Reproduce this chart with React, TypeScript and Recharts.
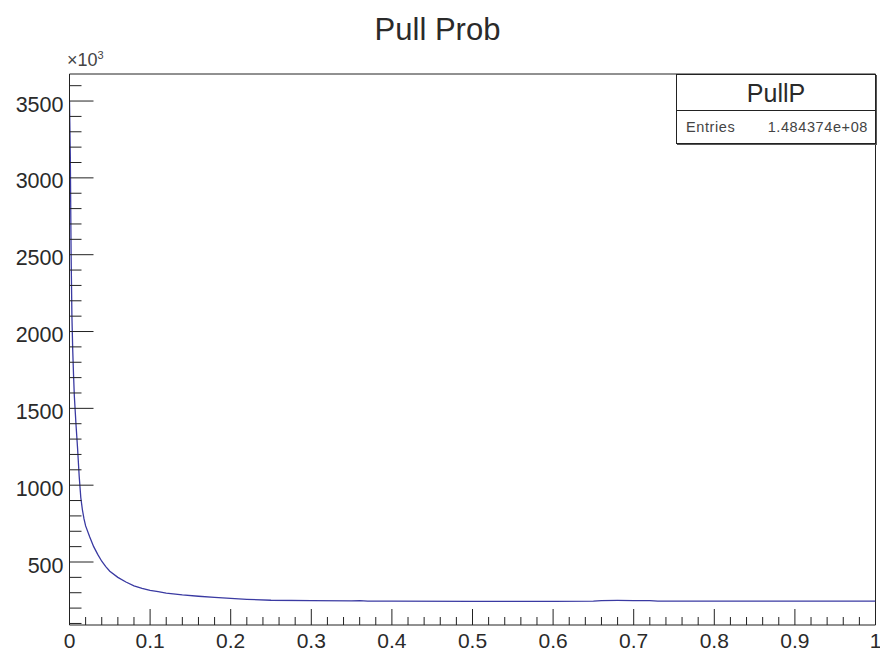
import React from "react";
import { LineChart, Line, XAxis, YAxis, ReferenceLine } from "recharts";

const xValues = [0, 0.001, 0.002, 0.003, 0.004, 0.005, 0.006, 0.008, 0.01, 0.012, 0.014, 0.016, 0.018, 0.02, 0.025, 0.03, 0.035, 0.04, 0.045, 0.05, 0.06, 0.07, 0.08, 0.09, 0.1, 0.11, 0.12, 0.14, 0.16, 0.18, 0.2, 0.22, 0.25, 0.3, 0.35, 0.36, 0.37, 0.4, 0.5, 0.6, 0.65, 0.66, 0.68, 0.7, 0.72, 0.73, 0.8, 0.9, 1.0];
const counts = [3500, 3150, 2500, 2100, 1880, 1720, 1580, 1400, 1240, 1060, 920, 840, 780, 735, 665, 600, 550, 505, 470, 440, 400, 370, 345, 328, 316, 307, 298, 286, 277, 270, 263, 257, 251, 248, 247, 249, 246, 245, 244, 244, 245, 249, 250, 249, 248, 245, 245, 245, 245];

const xMajorTicks = [0, 0.1, 0.2, 0.3, 0.4, 0.5, 0.6, 0.7, 0.8, 0.9, 1];
const xAllTicks = [0, 0.02, 0.04, 0.06, 0.08, 0.1, 0.12, 0.14, 0.16, 0.18, 0.2, 0.22, 0.24, 0.26, 0.28, 0.3, 0.32, 0.34, 0.36, 0.38, 0.4, 0.42, 0.44, 0.46, 0.48, 0.5, 0.52, 0.54, 0.56, 0.58, 0.6, 0.62, 0.64, 0.66, 0.68, 0.7, 0.72, 0.74, 0.76, 0.78, 0.8, 0.82, 0.84, 0.86, 0.88, 0.9, 0.92, 0.94, 0.96, 0.98, 1];
const xTickLabels = ["0", "0.1", "0.2", "0.3", "0.4", "0.5", "0.6", "0.7", "0.8", "0.9", "1"];

const yMajorTicks = [500, 1000, 1500, 2000, 2500, 3000, 3500];
const yAllTicks = [100, 200, 300, 400, 500, 600, 700, 800, 900, 1000, 1100, 1200, 1300, 1400, 1500, 1600, 1700, 1800, 1900, 2000, 2100, 2200, 2300, 2400, 2500, 2600, 2700, 2800, 2900, 3000, 3100, 3200, 3300, 3400, 3500, 3600];
const yTickLabels = ["500", "1000", "1500", "2000", "2500", "3000", "3500"];

const Y_MIN = 90;
const Y_MAX = 3676;

const data = xValues.map((x, i) => ({ x, y: counts[i] }));

const FONT = "'Liberation Sans', Arial, Helvetica, sans-serif";
const TXT = "#2a2a2a";

const XTick = (props: any) => {
  const { x, y, payload } = props;
  const v = payload.value;
  const idx = xMajorTicks.findIndex((m) => Math.abs(m - v) < 1e-9);
  const major = idx >= 0;
  return (
    <g>
      <line x1={x} x2={x} y1={y} y2={y - (major ? 16 : 8)} stroke="#222" strokeWidth={1} />
      {major && (
        <text x={x} y={y + 23} textAnchor="middle" fontFamily={FONT} fontSize={21} fill={TXT}>
          {xTickLabels[idx]}
        </text>
      )}
    </g>
  );
};

const YTick = (props: any) => {
  const { x, y, payload } = props;
  const v = payload.value;
  const idx = yMajorTicks.findIndex((m) => Math.abs(m - v) < 1e-9);
  const major = idx >= 0;
  return (
    <g>
      <line x1={x} x2={x + (major ? 24 : 12)} y1={y} y2={y} stroke="#222" strokeWidth={1} />
      {major && (
        <text x={x - 6} y={y + 10.5} textAnchor="end" fontFamily={FONT} fontSize={21.5} fill={TXT}>
          {yTickLabels[idx]}
        </text>
      )}
    </g>
  );
};

export default function App() {
  return (
    <div style={{ position: "absolute", left: 0, top: 0, width: 880, height: 652, background: "#fff", fontFamily: FONT }}>
      <div style={{ position: "absolute", left: 0, top: 12, width: 875, textAlign: "center", fontSize: 31, color: TXT }}>
        Pull Prob
      </div>
      <div style={{ position: "absolute", left: 67, top: 49, fontSize: 18, color: "#444" }}>
        ×10<sup style={{ fontSize: 11, verticalAlign: "7px" }}>3</sup>
      </div>
      <LineChart
        width={880}
        height={652}
        data={data}
        margin={{ top: 74, right: 4.5, left: 9.5, bottom: 0 }}
      >
        <XAxis
          dataKey="x"
          type="number"
          domain={[0, 1]}
          ticks={xAllTicks}
          interval={0}
          tickSize={0}
          tickMargin={0}
          tickLine={false}
          axisLine={{ stroke: "#222", strokeWidth: 1 }}
          tick={<XTick />}
          height={27}
          allowDataOverflow
        />
        <YAxis
          type="number"
          domain={[Y_MIN, Y_MAX]}
          ticks={yAllTicks}
          interval={0}
          tickSize={0}
          tickMargin={0}
          tickLine={false}
          axisLine={{ stroke: "#222", strokeWidth: 1 }}
          tick={<YTick />}
          width={60}
          allowDataOverflow
        />
        <ReferenceLine x={1} stroke="#222" strokeWidth={1} />
        <ReferenceLine y={Y_MAX} stroke="#222" strokeWidth={1} />
        <Line
          type="linear"
          dataKey="y"
          stroke="#3a3aa2"
          strokeWidth={1.3}
          dot={false}
          isAnimationActive={false}
        />
      </LineChart>
      <div
        style={{
          position: "absolute",
          left: 676,
          top: 74,
          width: 198,
          height: 68,
          border: "1px solid #222",
          background: "#fff",
          boxShadow: "1px 1px 0 #555",
        }}
      >
        <div style={{ height: 35, borderBottom: "1px solid #222", textAlign: "center", fontSize: 25, lineHeight: "37px", color: TXT }}>
          PullP
        </div>
        <div style={{ display: "flex", justifyContent: "space-between", padding: "0 7px 0 9px", fontSize: 14.5, letterSpacing: 0.6, lineHeight: "33px", color: "#444" }}>
          <span>Entries</span>
          <span>1.484374e+08</span>
        </div>
      </div>
    </div>
  );
}
